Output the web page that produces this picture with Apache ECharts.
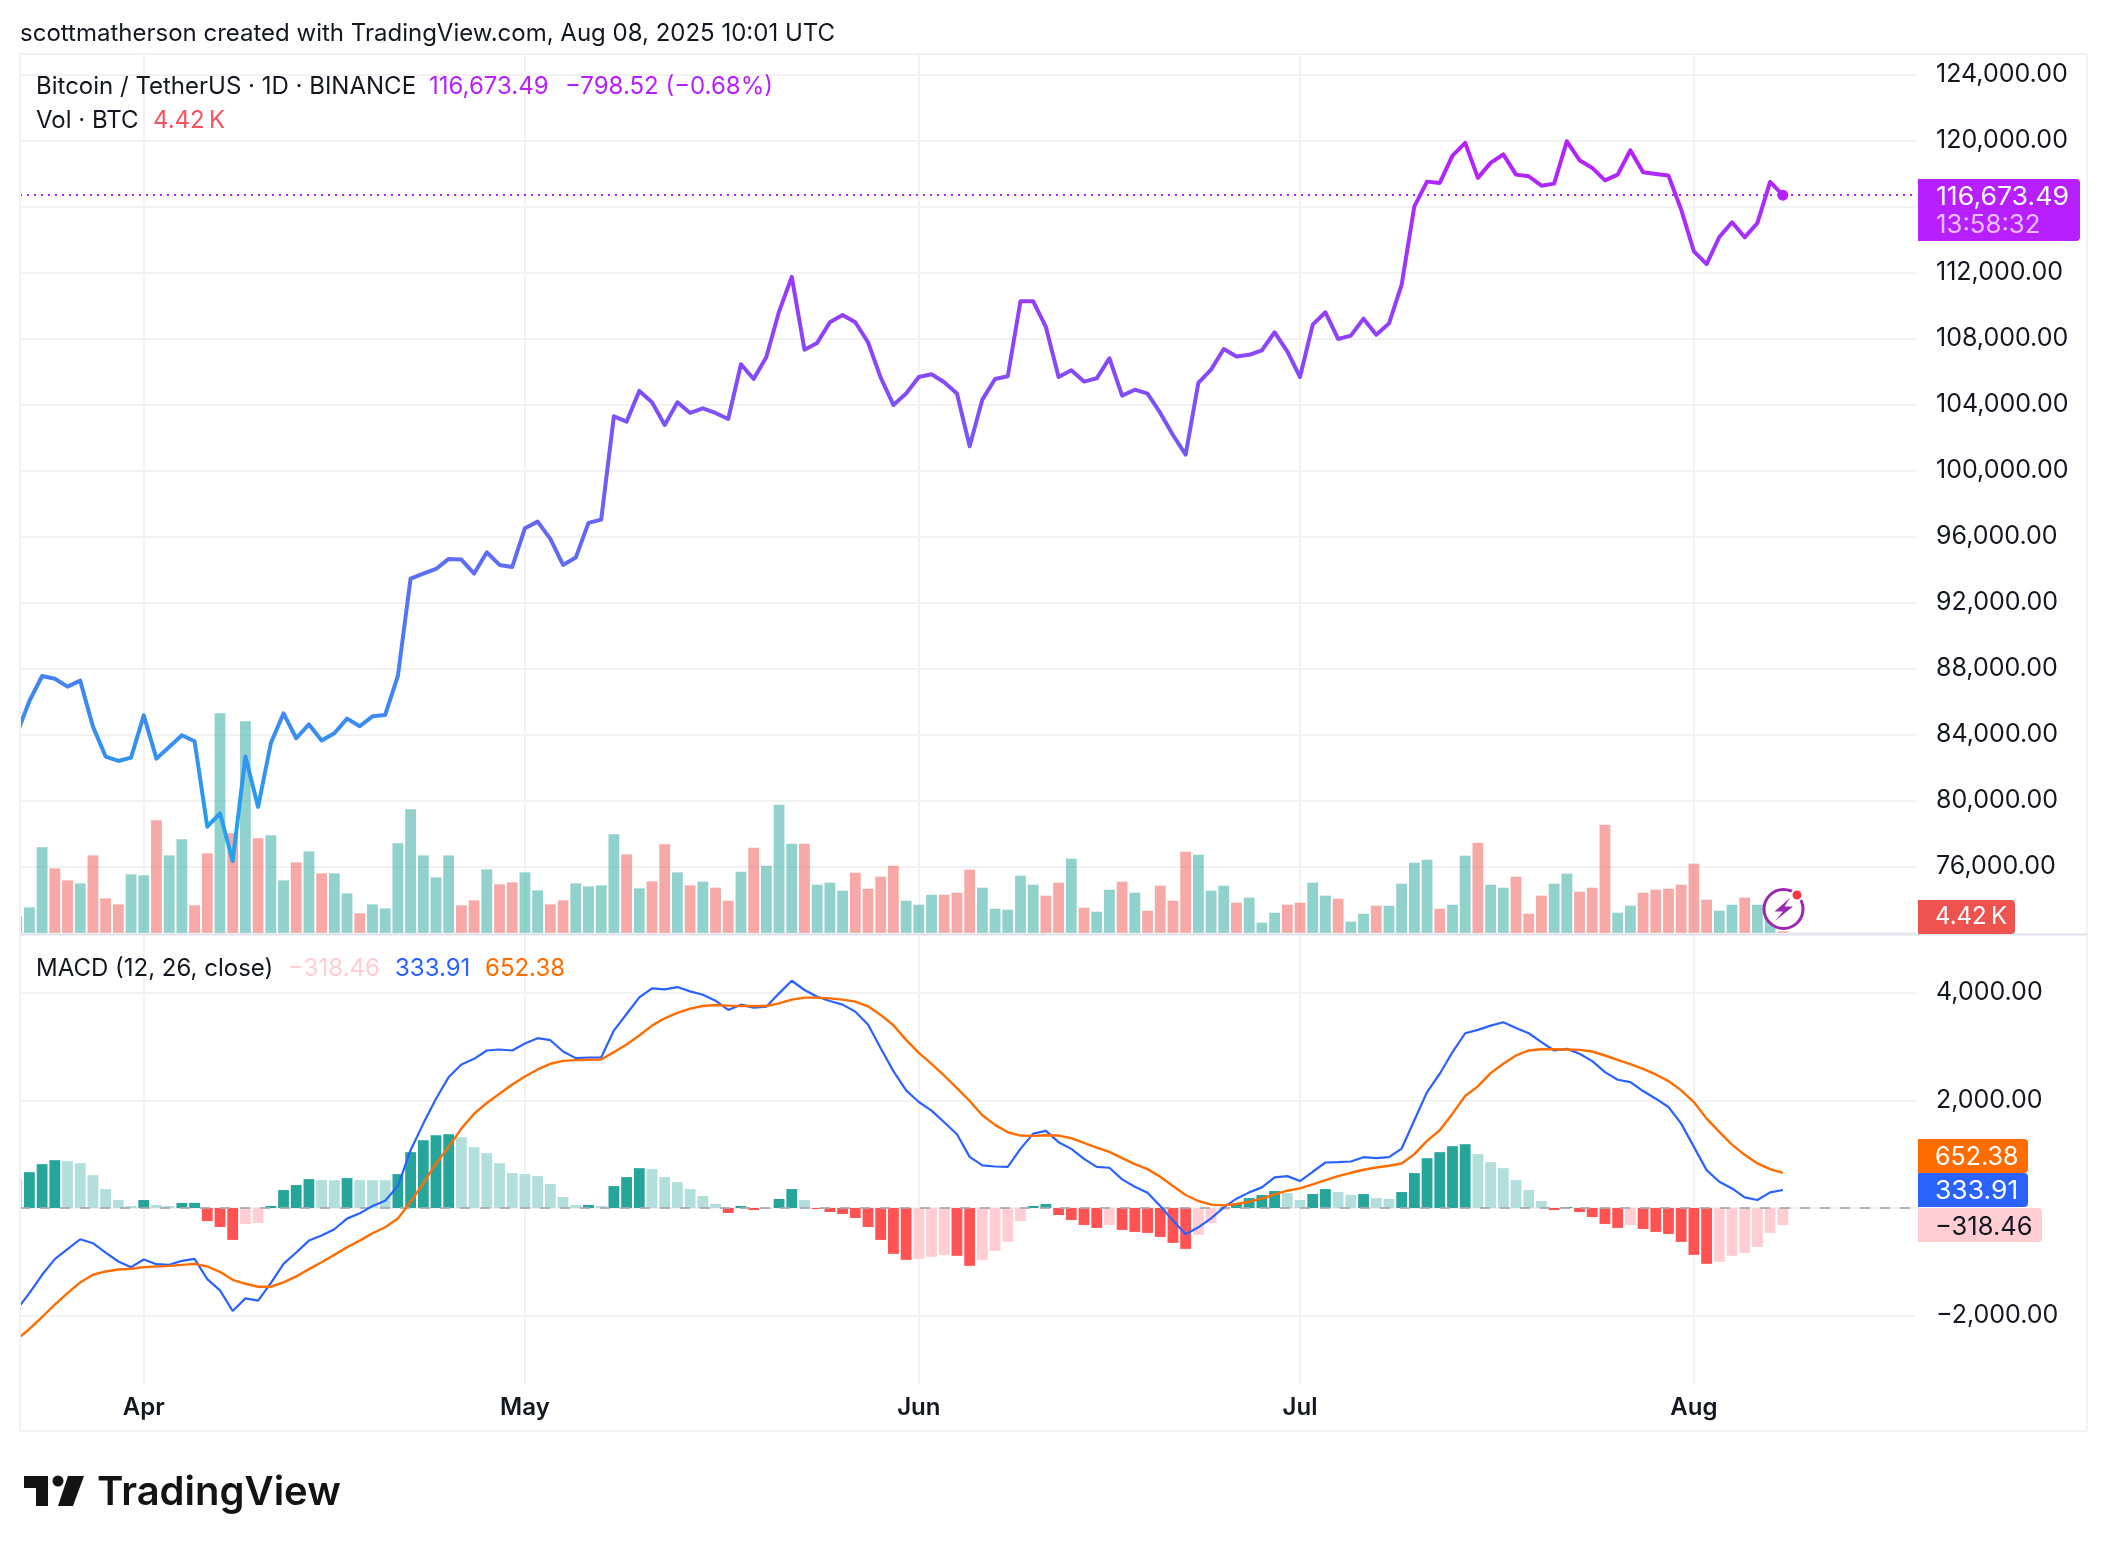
<!DOCTYPE html>
<html>
<head>
<meta charset="utf-8">
<style>html,body{margin:0;padding:0;background:#fff}#c{width:2108px;height:1552px}</style>
<script src="https://cdn.jsdelivr.net/npm/echarts@6/dist/echarts.min.js"></script>
</head>
<body>
<div id="c"></div>
<script>
// Day offsets are counted from 1 Apr 2025; the series start on 22 Mar 2025 (offset -10)
const firstDay = -10;
const monthTicks = [0, 30, 61, 91, 122];
const monthLabels = ['Apr', 'May', 'Jun', 'Jul', 'Aug'];
const priceTicks = [72000,76000,80000,84000,88000,92000,96000,100000,104000,108000,112000,116000,120000,124000];
const priceLabelTicks = [76000,80000,84000,88000,92000,96000,100000,104000,108000,112000,116000,120000,124000];
const macdTicks = [-2000, 0, 2000, 4000];
const macdLabelTicks = [-2000, 2000, 4000];

const closePrice = [
84000,86020,87535,87370,86890,87250,84465,82650,82385,82590,
85150,82525,83230,83940,83575,78400,79210,76320,82650,79600,
83455,85270,83760,84600,83630,84060,84950,84485,85090,85170,
87535,93436,93740,94020,94630,94590,93740,95030,94265,94140,
96490,96890,95840,94265,94710,96810,97010,103270,102950,104810,
104120,102750,104120,103475,103760,103475,103110,106425,105535,106870,
109620,111720,107310,107720,108970,109415,108970,107760,105615,103960,
104650,105655,105820,105335,104650,101455,104285,105535,105700,110243,
110243,108690,105655,106060,105375,105575,106790,104525,104885,104650,
103475,102140,100950,105295,106100,107350,106900,107000,107270,108365,
107210,105655,108830,109575,107960,108160,109190,108220,108890,111250,
116000,117495,117415,119070,119840,117720,118630,119150,117920,117820,
117250,117375,119940,118790,118325,117575,117920,119395,118060,117960,
117860,115800,113270,112500,114140,115030,114120,114990,117475,116673.49];

// Volume in thousands of BTC
const volumeK = [
9.0,11.6,29.6,23.3,19.7,18.8,27.2,14.3,12.5,21.5,
21.2,37.7,27.2,32,12.2,27.8,69.8,33.8,67.4,32.3,
33.2,19.7,25.1,28.4,21.8,21.8,15.8,9.8,12.5,11.3,
30.8,41,27.2,20.6,27.2,12.2,13.7,23,18.5,19.1,
22.1,16.7,12.5,13.7,18.8,17.9,18.2,33.5,27.5,17.3,
19.4,30.5,22.1,18.2,19.3,17.5,13.6,22.3,29.5,24.1,
42.4,30.7,30.7,18.4,19,16.6,22,17.2,20.8,24.1,
13.6,12.4,15.4,15.4,16,22.9,17.5,11.2,10.9,21.1,
18.4,15.1,19,26.2,11.5,10.3,16.9,19.3,16,10.6,
18.1,13.6,28.3,27.4,16.6,18.1,13,14.5,7,10,
12.4,13,19,15.1,14.2,7.3,9.7,12.1,12.1,18.7,
25,25.9,11.2,12.4,27.1,31,18.4,17.5,20.8,9.7,
15.1,18.7,21.7,16.3,17.5,36.4,10,12.1,16,16.9,
17.2,18.4,24.7,13.9,10.6,12.4,14.5,12.4,10,4.42];

// G = up day, R = down day, one letter per volume bar
const volumeDir = [
'RGGRRGRRRG','GRGGRRGRGR','GGRGRGGRGG','GGGGGRRGRR','GGRRGGGGRG',
'RRGRGRRGRG','GGRGGGRRRR','GGGRRRGGGG','GRRGRGGRGR','RRRGGGRGGG',
'RRGGRGGRGG','GGRGGRGGRR','RGGRRRGGRR','RRRRGGRGGR'].join('');

const macdHist = [
537,666,814,888,870,833,611,352,148,37,
148,56,37,93,95,-241,-352,-592,-296,-278,
37,333,426,537,518,516,555,518,517,516,
629,1037,1259,1351,1370,1314,1129,1018,833,648,
629,592,444,204,56,58,37,407,574,740,
722,574,481,352,222,74,-93,37,-37,-19,
167,352,148,-19,-74,-111,-185,-352,-592,-851,
-963,-944,-907,-870,-888,-1074,-963,-796,-629,-241,
37,74,-130,-222,-315,-370,-315,-407,-444,-463,
-537,-648,-759,-500,-278,-37,74,185,241,315,
278,148,259,352,296,241,259,185,167,296,
648,925,1037,1148,1185,1000,851,740,518,333,
130,-37,19,-74,-167,-296,-370,-315,-389,-444,
-481,-629,-870,-1037,-999,-888,-833,-722,-463,-318.46];

const macdLine = [
-1888,-1580,-1240,-950,-765,-580,-654,-827,-993,-1098,
-956,-1043,-1055,-981,-944,-1320,-1530,-1913,-1678,-1721,
-1394,-1037,-827,-605,-512,-395,-197,-99,37,136,
407,1074,1567,2030,2431,2665,2770,2925,2943,2925,
3054,3153,3116,2906,2783,2795,2795,3295,3603,3912,
4078,4060,4103,4023,3961,3850,3677,3776,3721,3739,
3986,4220,4048,3924,3844,3776,3646,3406,2968,2542,
2184,1968,1808,1592,1370,950,790,771,765,1098,
1382,1431,1222,1098,913,765,747,531,395,284,
37,-234,-487,-358,-191,12,173,290,383,568,
592,500,673,845,851,864,944,926,944,1104,
1629,2153,2493,2894,3245,3307,3387,3449,3344,3245,
3079,2925,2955,2863,2727,2524,2382,2338,2172,2030,
1876,1567,1135,703,487,364,197,148,290,333.91];

const signalLine = [
-2443,-2246,-2024,-1795,-1580,-1382,-1240,-1178,-1141,-1129,
-1098,-1086,-1074,-1055,-1037,-1086,-1185,-1333,-1407,-1462,
-1462,-1382,-1271,-1135,-1006,-870,-728,-605,-469,-358,
-197,117,457,827,1135,1475,1752,1950,2122,2295,
2443,2573,2678,2733,2746,2752,2758,2894,3036,3202,
3387,3523,3622,3702,3751,3770,3758,3751,3751,3751,
3801,3869,3906,3906,3893,3869,3832,3745,3585,3394,
3122,2881,2678,2456,2227,1987,1721,1543,1407,1345,
1339,1351,1345,1296,1209,1123,1043,926,814,722,
580,407,241,130,62,49,74,117,173,253,
321,364,438,518,592,654,710,753,784,827,
1000,1246,1444,1752,2079,2258,2505,2678,2832,2925,
2949,2949,2943,2937,2906,2832,2752,2672,2585,2480,
2357,2184,1968,1660,1413,1178,987,827,722,652.38];

const FONT = 'Inter';
const INK = '#131722';
const GRID = '#f2f2f2';
const PURPLE = '#b71fff';
const UP = '#26a69a', DOWN = '#ef5350';
const HIST = {upStrong:'#26a69a', upWeak:'#b2dfdb', downStrong:'#ff5252', downWeak:'#ffcdd2'};

const paneLeft = 20, paneWidth = 1896;
const xMin = -9.74, xMax = 139.48;

const withDay = arr => arr.map((v, k) => [firstDay + k, v]);
const volData = volumeK.map((v, k) => ({
  value: [firstDay + k, v],
  itemStyle: {color: volumeDir[k] === 'G' ? UP : DOWN, opacity: 0.5}
}));
const histData = macdHist.map((v, k) => {
  const prev = k ? macdHist[k - 1] : Infinity;
  const c = v >= 0 ? (v > prev ? HIST.upStrong : HIST.upWeak)
                   : (v < prev ? HIST.downStrong : HIST.downWeak);
  return {value: [firstDay + k, v], itemStyle: {color: c}};
});

const fmtAxis = v => {
  const s = Math.abs(v).toLocaleString('en-US', {minimumFractionDigits: 2, maximumFractionDigits: 2});
  return (v < 0 ? '\u2212' : '') + s;
};
const xAxisBase = (gridIndex, extra) => Object.assign({
  type: 'value', gridIndex, min: xMin, max: xMax,
  axisLine: {show: false},
  axisTick: {show: false, customValues: monthTicks},
  axisLabel: {show: false},
  splitLine: {show: false}
}, extra);
const vSplit = {show: true, lineStyle: {color: GRID, width: 2}};
const hSplit = {show: true, lineStyle: {color: GRID, width: 2}};
const yLabel = values => ({
  show: true, customValues: values, margin: 20, align: 'left', padding: [2, 0, 0, 0],
  fontFamily: FONT, fontSize: 25, color: INK, formatter: fmtAxis
});

const txt = (x, y, text, fill, o) => Object.assign({
  type: 'text', z: 110, x, y,
  style: Object.assign({text, fill, font: '24px ' + FONT, textVerticalAlign: 'middle', textBaseline: 'middle'}, o && o.style || {})
}, o && o.el || {});
const tag = (x, y, text, fill, sx) => txt(x, y, text, fill, {
  style: {font: '25px ' + FONT}, el: {scaleX: sx || 1}
});
const box = (x, y, w, h, fill, r) => ({
  type: 'rect', z: 105, shape: {x, y, width: w, height: h, r: r || 0}, style: {fill}
});
const line = (x1, y1, x2, y2, stroke, w) => ({
  type: 'line', z: 60, shape: {x1, y1, x2, y2}, style: {stroke, lineWidth: w}
});

const graphics = [
  // keeps the clipped first bar inside the left frame line
  {type: 'rect', z: 50, shape: {x: 0, y: 54, width: 19, height: 1377}, style: {fill: '#ffffff'}},
  // frame and pane separator
  line(20, 54, 2087, 54, GRID, 2),
  line(20, 54, 20, 1431, GRID, 2),
  line(2087, 54, 2087, 1431, GRID, 2),
  line(20, 1431, 2087, 1431, GRID, 2),
  line(20, 934.5, 2087, 934.5, '#e0e3eb', 2),
  // header and legends
  txt(20, 33.5, 'scottmatherson created with TradingView.com, Aug 08, 2025 10:01 UTC', INK),
  txt(36, 87, 'Bitcoin / TetherUS \u00b7 1D \u00b7 BINANCE', INK),
  txt(429, 87, '116,673.49', PURPLE),
  txt(565, 87, '\u2212798.52 (\u22120.68%)', PURPLE),
  txt(36, 121, 'Vol \u00b7 BTC', INK),
  txt(153, 121, '4.42\u2009K', '#f7525f'),
  txt(36, 969, 'MACD (12, 26, close)', INK),
  txt(288, 969, '\u2212318.46', HIST.downWeak),
  txt(395, 969, '333.91', '#2962ff'),
  txt(485, 969, '652.38', '#ff6d00'),
  // price tags on the right scale
  box(1918, 179, 162, 62, PURPLE, [0, 4, 4, 0]),
  tag(1936, 197, '116,673.49', '#ffffff', 1.068),
  tag(1936, 225, '13:58:32', 'rgba(255,255,255,0.7)', 1.03),
  box(1918, 900, 97, 34, '#ef5350', [0, 4, 4, 0]),
  txt(1935, 917, '4.42\u2009K', '#ffffff'),
  box(1918, 1139, 110, 34, '#ff6d00', [0, 4, 4, 0]),
  tag(1935, 1157, '652.38', '#ffffff', 1),
  box(1918, 1173, 110, 34, '#2962ff', [0, 4, 4, 0]),
  tag(1935, 1191, '333.91', '#ffffff', 1.06),
  box(1918, 1208, 124, 34, '#ffcdd2', [0, 4, 4, 0]),
  tag(1935, 1227, '\u2212318.46', INK, 1.02),
  // notification icon
  {type: 'circle', z: 105, shape: {cx: 1783.5, cy: 909, r: 19.5}, style: {fill: '#fff', stroke: '#9c27b0', lineWidth: 3}},
  {type: 'polygon', z: 106, shape: {points: [[1790,898],[1774.5,911.5],[1783,911.5],[1775,921],[1793,906.5],[1784.5,906.5]]}, style: {fill: '#9c27b0'}},
  {type: 'circle', z: 107, shape: {cx: 1797, cy: 895, r: 5.5}, style: {fill: '#f23645', stroke: '#fff', lineWidth: 2}},
  // TradingView logo
  {type: 'polygon', z: 105, shape: {points: [[24,1476],[48,1476],[48,1506],[36,1506],[36,1488],[24,1488]]}, style: {fill: '#131313'}},
  {type: 'circle', z: 105, shape: {cx: 58, cy: 1481, r: 5.5}, style: {fill: '#131313'}},
  {type: 'polygon', z: 105, shape: {points: [[68,1476],[84,1476],[73,1506],[58,1506]]}, style: {fill: '#131313'}},
  txt(97, 1493, 'TradingView', '#131313', {style: {font: '600 40px ' + FONT}})
];

const option = {
  animation: false,
  backgroundColor: '#ffffff',
  textStyle: {fontFamily: FONT},
  grid: [
    {left: paneLeft, width: paneWidth, top: 54, height: 880},
    {left: paneLeft, width: paneWidth, top: 54, height: 878.7},
    {left: paneLeft, width: paneWidth, top: 934, height: 450}
  ],
  xAxis: [
    xAxisBase(0, {splitLine: vSplit}),
    xAxisBase(1),
    xAxisBase(2, {
      splitLine: vSplit,
      axisLabel: {
        show: true, customValues: monthTicks, margin: 12,
        fontFamily: FONT, fontSize: 24, fontWeight: 600, color: INK,
        formatter: v => monthLabels[monthTicks.indexOf(v)]
      }
    })
  ],
  yAxis: [
    {type: 'value', gridIndex: 0, position: 'right', min: 71897, max: 125230,
     axisLine: {show: false}, axisTick: {show: false, customValues: priceTicks},
     axisLabel: yLabel(priceLabelTicks), splitLine: hSplit},
    {type: 'value', gridIndex: 1, min: 4, max: 267.6, show: false, splitLine: {show: false}},
    {type: 'value', gridIndex: 2, position: 'right', min: -3268, max: 5088,
     axisLine: {show: false}, axisTick: {show: false, customValues: macdTicks},
     axisLabel: yLabel(macdLabelTicks), splitLine: hSplit}
  ],
  series: [
    {name: 'Vol', type: 'bar', xAxisIndex: 1, yAxisIndex: 1, barWidth: 10.8, clip: true, z: 2, data: volData, silent: true},
    {name: 'BTCUSDT', type: 'line', xAxisIndex: 0, yAxisIndex: 0, z: 4, showSymbol: false, smooth: false,
     data: withDay(closePrice),
     lineStyle: {width: 4, join: 'round', color: {type: 'linear', x: 0, y: 0, x2: 0, y2: 1, colorStops: [
       {offset: 0, color: '#b81fff'}, {offset: 0.5, color: '#6b61f6'}, {offset: 1, color: '#1da6ee'}]}},
     markLine: {silent: true, symbol: 'none', label: {show: false}, z: 3,
       lineStyle: {color: PURPLE, type: [2, 5], width: 2},
       data: [{yAxis: closePrice[closePrice.length - 1]}]}},
    {name: 'Last', type: 'scatter', xAxisIndex: 0, yAxisIndex: 0, z: 5, symbolSize: 11,
     itemStyle: {color: PURPLE, opacity: 1}, silent: true,
     data: [[firstDay + closePrice.length - 1, closePrice[closePrice.length - 1]]]},
    {name: 'Histogram', type: 'bar', xAxisIndex: 2, yAxisIndex: 2, barWidth: 10.8, clip: true, z: 2, data: histData, silent: true,
     markLine: {silent: true, symbol: 'none', label: {show: false}, z: 3,
       lineStyle: {color: '#a6a8ae', type: [10, 10], width: 2, opacity: 0.85},
       data: [{yAxis: 0}]}},
    {name: 'MACD', type: 'line', xAxisIndex: 2, yAxisIndex: 2, z: 4, showSymbol: false,
     data: withDay(macdLine), lineStyle: {width: 2.2, color: '#2962ff'}},
    {name: 'Signal', type: 'line', xAxisIndex: 2, yAxisIndex: 2, z: 5, showSymbol: false,
     data: withDay(signalLine), lineStyle: {width: 2.4, color: '#ff6d00'}}
  ],
  graphic: {elements: graphics}
};

const chart = echarts.init(document.getElementById('c'), null, {renderer: 'canvas', width: 2108, height: 1552, devicePixelRatio: 1});
chart.setOption(option);
</script>
</body>
</html>
